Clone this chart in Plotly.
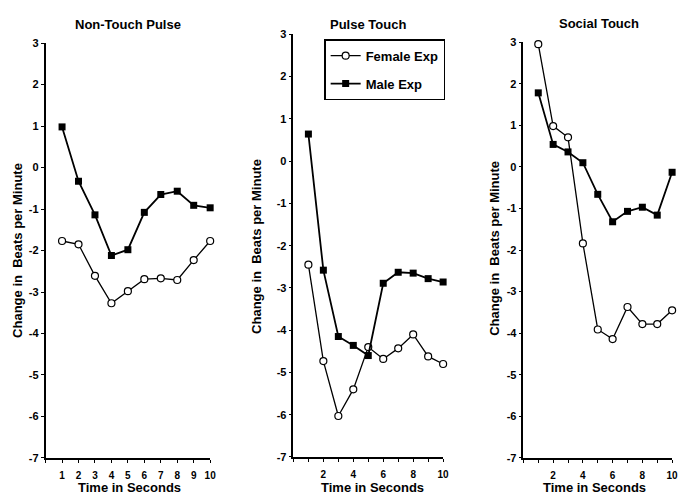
import plotly.graph_objects as go

# ---- data ----
seconds = [1, 2, 3, 4, 5, 6, 7, 8, 9, 10]
panel_titles = ["Non-Touch Pulse", "Pulse Touch", "Social Touch"]
series_names = ["Female Exp", "Male Exp"]

female_nontouch = [-1.77, -1.85, -2.61, -3.27, -2.98, -2.69, -2.67, -2.71, -2.23, -1.77]
male_nontouch = [0.98, -0.33, -1.14, -2.12, -1.98, -1.08, -0.65, -0.57, -0.91, -0.97]

female_pulse = [-2.45, -4.73, -6.03, -5.40, -4.40, -4.68, -4.43, -4.10, -4.62, -4.80]
male_pulse = [0.64, -2.58, -4.15, -4.36, -4.60, -2.89, -2.63, -2.65, -2.78, -2.86]

female_social = [2.95, 0.98, 0.71, -1.84, -3.91, -4.14, -3.37, -3.78, -3.78, -3.45]
male_social = [1.78, 0.54, 0.36, 0.10, -0.66, -1.32, -1.07, -0.97, -1.16, -0.13]

y_ticks = [3, 2, 1, 0, -1, -2, -3, -4, -5, -6, -7]
y_tick_text = ["3", "2", "1", "0", "-1", "-2", "-3", "-4", "-5", "-6", "-7"]
x_ticks_first = [1, 2, 3, 4, 5, 6, 7, 8, 9, 10]
x_ticks_other = [2, 4, 6, 8, 10]

W, H = 690, 504
FONT = "Liberation Sans, Arial, sans-serif"

def px(x):
    return x / W

def py(y):
    return 1 - y / H

fig = go.Figure()

panels = [
    (female_nontouch, male_nontouch, "x", "y"),
    (female_pulse, male_pulse, "x2", "y2"),
    (female_social, male_social, "x3", "y3"),
]

for i, (fem, mal, xa, ya) in enumerate(panels):
    fig.add_trace(go.Scatter(
        x=seconds, y=fem, xaxis=xa, yaxis=ya, mode="lines+markers",
        name=series_names[0], showlegend=(i == 1), legendgroup="f",
        line=dict(color="black", width=1.3),
        marker=dict(symbol="circle", size=7, color="white",
                    line=dict(color="black", width=1.2)),
        cliponaxis=False,
    ))
    fig.add_trace(go.Scatter(
        x=seconds, y=mal, xaxis=xa, yaxis=ya, mode="lines+markers",
        name=series_names[1], showlegend=(i == 1), legendgroup="m",
        line=dict(color="black", width=1.8),
        marker=dict(symbol="square", size=7, color="black",
                    line=dict(color="black", width=0)),
        cliponaxis=False,
    ))

x_domains = [(46, 212), (296, 447), (528, 678)]
y_domains = [(38, 463), (29, 462), (37, 463)]

ytickfont = dict(family=FONT, size=11, color="black", weight="bold")
xtickfont = dict(family=FONT, size=10, color="black", weight="bold")

layout_axes = {}
for i in range(3):
    sfx = "" if i == 0 else str(i + 1)
    xd = x_domains[i]
    yd = y_domains[i]
    xaxis = dict(
        domain=[px(xd[0]), px(xd[1])], range=[0, 10], anchor="y" + sfx,
        showline=True, linecolor="black", linewidth=1.5, showgrid=False,
        zeroline=False, ticks="outside", ticklen=3, tickwidth=1,
        tickcolor="black", tickfont=xtickfont, fixedrange=True,
        ticklabelstandoff=4,
    )
    if i == 0:
        xaxis.update(tickvals=x_ticks_first,
                     minor=dict(tickvals=[0], ticks="outside", ticklen=3,
                                tickcolor="black", tickwidth=1))
    else:
        xaxis.update(tickvals=x_ticks_other,
                     minor=dict(dtick=1, tick0=0, ticks="outside", ticklen=3,
                                tickcolor="black", tickwidth=1))
    yaxis = dict(
        domain=[py(yd[1]), py(yd[0])], range=[-7, 3], anchor="x" + sfx,
        showline=True, linecolor="black", linewidth=1.5, showgrid=False,
        zeroline=False, ticks="outside", ticklen=3, tickwidth=1,
        tickcolor="black", tickvals=y_ticks, ticktext=y_tick_text,
        tickfont=ytickfont, fixedrange=True,
    )
    layout_axes["xaxis" + sfx] = xaxis
    layout_axes["yaxis" + sfx] = yaxis

fig.update_layout(**layout_axes)

lab_font = dict(family=FONT, size=13, color="black", weight="bold")
annotations = []
title_pos = [(129, 19), (371, 19), (604, 18)]
xt_pos = [(131, 493), (376, 493), (600, 493)]
yt_pos = [(17, 250), (258, 246), (498, 248)]
for i in range(3):
    annotations.append(dict(text=panel_titles[i], x=px(title_pos[i][0]),
                            y=py(title_pos[i][1]), xref="paper", yref="paper",
                            showarrow=False, font=lab_font,
                            xanchor="center", yanchor="middle"))
    annotations.append(dict(text="Time in Seconds", x=px(xt_pos[i][0]),
                            y=py(xt_pos[i][1]), xref="paper", yref="paper",
                            showarrow=False, font=lab_font,
                            xanchor="center", yanchor="middle"))
    annotations.append(dict(text="Change in\u00a0\u00a0Beats per Minute",
                            x=px(yt_pos[i][0]), y=py(yt_pos[i][1]),
                            xref="paper", yref="paper", textangle=-90,
                            showarrow=False, font=lab_font,
                            xanchor="center", yanchor="middle"))

fig.update_layout(
    width=W, height=H,
    margin=dict(l=0, r=0, t=0, b=0),
    paper_bgcolor="white", plot_bgcolor="white",
    annotations=annotations,
    showlegend=True,
    legend=dict(
        x=px(327), y=py(34), xanchor="left", yanchor="top",
        bordercolor="black", borderwidth=1.5, bgcolor="white",
        font=dict(family=FONT, size=13, color="black", weight="bold"),
        tracegroupgap=8, itemwidth=30,
    ),
)

fig.write_html("out.html")
